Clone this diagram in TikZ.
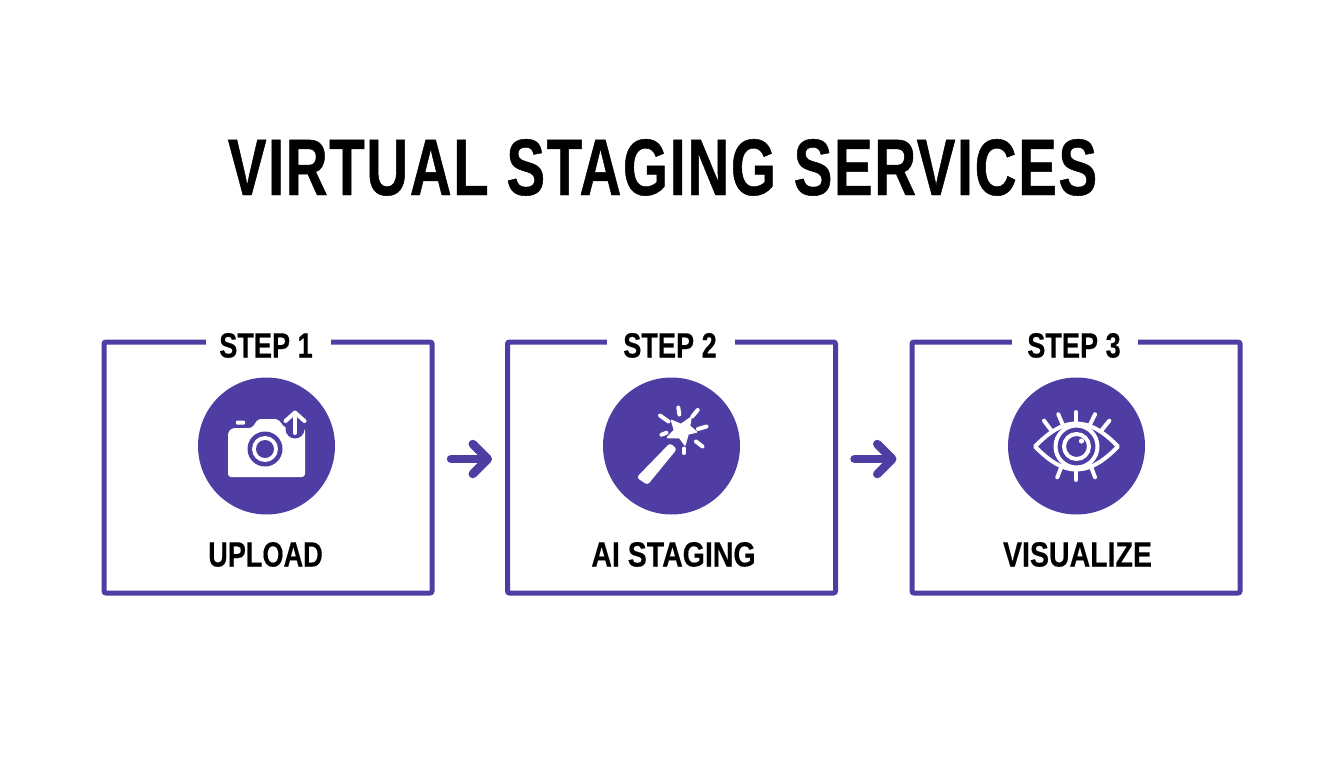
\documentclass[tikz,border=0pt]{standalone}
\usepackage{fontspec}
\usetikzlibrary{arrows.meta}
\setmainfont{Liberation Sans}
\newfontfamily\condtitle[FakeStretch=0.725,LetterSpace=2,FakeBold=0.6]{Liberation Sans}
\newfontfamily\condlabel[FakeStretch=0.815,FakeBold=0.4]{Liberation Sans}
\newfontfamily\condshort[FakeStretch=0.775,FakeBold=0.4]{Liberation Sans}
\definecolor{brandpurple}{HTML}{4F3DA3}
\tikzset{
  titletext/.style={inner sep=0pt,text height=58pt,text depth=0pt,font=\condtitle\fontsize{80}{80}\selectfont\bfseries},
  framebox/.style={draw=brandpurple,line width=5pt,rounded corners=2pt,minimum width=328pt,minimum height=251pt,outer sep=0pt,inner sep=0pt},
  tagtext/.style={fill=white,inner sep=0pt,minimum height=30pt,text height=26pt,text depth=0pt,font=\condshort\fontsize{35}{35}\selectfont\bfseries},
  nametext/.style={inner sep=0pt,text height=26pt,text depth=0pt,font=\condlabel\fontsize{35}{35}\selectfont\bfseries},
  disc/.style={circle,fill=brandpurple,minimum size=137pt,inner sep=0pt,outer sep=0pt},
  flow/.style={draw=brandpurple,line width=8.5pt,line cap=round,-{Straight Barb[round,length=15pt,width=30pt]},shorten <=19pt,shorten >=15.5pt},
  iconline/.style={draw=white,line width=4pt,line cap=round,line join=round},
}
\begin{document}
\begin{tikzpicture}[x=1pt,y=-1pt]
\useasboundingbox (0,0) rectangle (1344,768);
\node[titletext] (title) at (662.5,166) {VIRTUAL STAGING SERVICES};
% frames
\node[framebox] (b1) at (268,467.5) {};
\node[framebox] (b2) at (671.5,467.5) {};
\node[framebox] (b3) at (1076,467.5) {};
% step tags
\node[tagtext,minimum width=125pt] (t1) at (268.5,344.5) {\hspace*{-5pt}STEP 1};
\node[tagtext,minimum width=128pt] (t2) at (671,344.5) {\hspace*{-2pt}STEP 2};
\node[tagtext,minimum width=126pt] (t3) at (1075,344.5) {\hspace*{-2pt}STEP 3};
% discs
\node[disc] (c1) at (266.5,446) {};
\node[disc] (c2) at (671.5,446) {};
\node[disc] (c3) at (1076.5,446) {};
% names
\node[nametext,font=\condshort\fontsize{35}{35}\selectfont\bfseries] (n1) at (265.5,553.5) {UPLOAD};
\node[nametext] (n2) at (673.5,553.5) {AI STAGING};
\node[nametext] (n3) at (1077.5,553.5) {VISUALIZE};
% connectors
\draw[flow] ([yshift=8.5pt]b1.east) -- ([yshift=8.5pt]b2.west);
\draw[flow] ([yshift=8.5pt]b2.east) -- ([yshift=8.5pt]b3.west);
% camera icon
\fill[white,rounded corners=3pt] (228,432) -- (232,428) -- (252,428) -- (258,419) -- (278,419) -- (285,428) -- (305,428) -- (305,477) -- (228,477) -- cycle;
\fill[white,rounded corners=1pt] (236,420.5) rectangle (245,424.5);
\fill[brandpurple] (265,449) circle (17.5);
\fill[white] (265,449) circle (13);
\fill[brandpurple] (265,449) circle (9);
\fill[brandpurple] (295,429) circle (9.5);
\draw[iconline] (295,433) -- (295,412.5);
\draw[iconline] (285.5,421) -- (295,412.5) -- (304.5,421);
% wand icon
\fill[white,rounded corners=3pt] (636.5,477.5) -- (670,443) -- (677,449) -- (647.5,485) -- cycle;
\fill[white,draw=white,line width=1.5pt,line join=round] (691,417.5) -- (689.5,426) -- (696.5,432) -- (688,434) -- (685,445) -- (679.5,437.5) -- (667.5,437.5) -- (674.5,430) -- (671.5,420.5) -- (681,424.5) -- cycle;
\draw[iconline] (660,415.5) -- (668.5,421.5);
\draw[iconline] (678.3,407.5) -- (679.3,414.5);
\draw[iconline] (697.7,410) -- (692.3,416.5);
\draw[iconline] (706.5,426.5) -- (698,429);
\draw[iconline] (702.5,446.5) -- (696,441.5);
\draw[iconline] (684.3,448.5) -- (684.3,453);
\draw[iconline] (666.5,432.7) -- (661.5,434.7);
% eye icon
\draw[iconline] (1035,446.5) .. controls (1050,431) and (1063,423.5) .. (1076,423.5) .. controls (1090,423.5) and (1103,431) .. (1118,446.5) .. controls (1103,462) and (1090,469.5) .. (1076,469.5) .. controls (1063,469.5) and (1050,462) .. (1035,446.5) -- cycle;
\draw[iconline] (1076.5,446.5) circle (21);
\draw[iconline] (1076.5,446.5) circle (12.5);
\fill[white] (1081.5,441) circle (2.6);
\draw[iconline] (1076,412) -- (1076,424);
\draw[iconline] (1058.3,414.3) -- (1063.3,426);
\draw[iconline] (1095,414.3) -- (1089.3,426);
\draw[iconline] (1044,420.7) -- (1051.7,431);
\draw[iconline] (1109.3,420.7) -- (1101,431);
\draw[iconline] (1076,469) -- (1076,480);
\draw[iconline] (1061.7,466) -- (1057.3,477.3);
\draw[iconline] (1090.7,466) -- (1095,477.3);
\end{tikzpicture}
\end{document}
